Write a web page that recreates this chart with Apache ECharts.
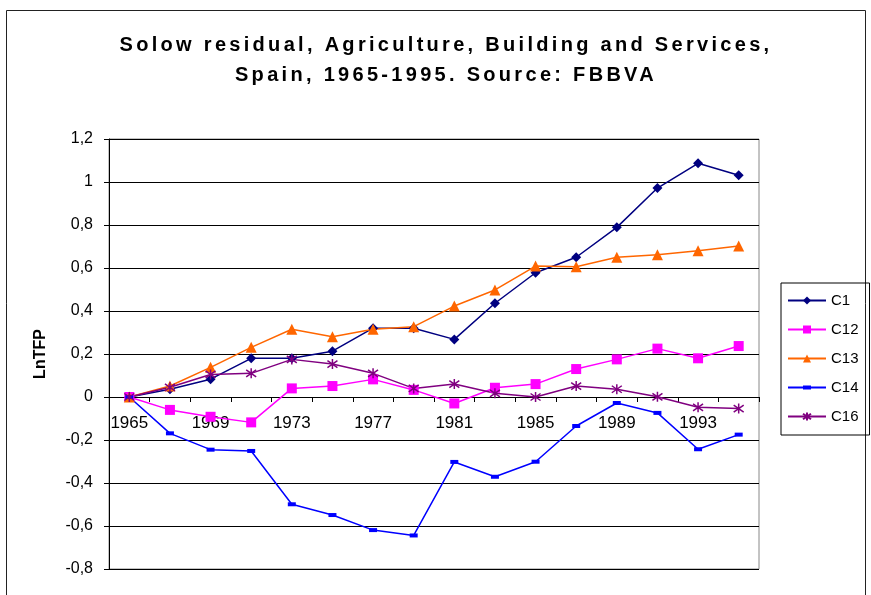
<!DOCTYPE html>
<html>
<head>
<meta charset="utf-8">
<script src="https://cdn.jsdelivr.net/npm/echarts@6/dist/echarts.min.js"></script>
<style>
  html, body { margin: 0; padding: 0; background: #fff; }
  #chart { width: 871px; height: 595px; }
</style>
</head>
<body>
<div id="chart"></div>
<script>
// datos
var years = ['1965', '1967', '1969', '1971', '1973', '1975', '1977', '1979',
             '1981', '1983', '1985', '1987', '1989', '1991', '1993', '1995'];
var c1  = [0, 0.036, 0.083, 0.18, 0.18, 0.213, 0.32, 0.32, 0.268, 0.436, 0.578, 0.65, 0.789, 0.972, 1.087, 1.031];
var c12 = [0, -0.06, -0.092, -0.118, 0.04, 0.051, 0.082, 0.033, -0.03, 0.043, 0.06, 0.13, 0.175, 0.225, 0.18, 0.237];
var c13 = [0, 0.051, 0.138, 0.231, 0.315, 0.28, 0.315, 0.327, 0.423, 0.498, 0.609, 0.606, 0.65, 0.662, 0.68, 0.702];
var c14 = [0, -0.169, -0.245, -0.251, -0.499, -0.549, -0.619, -0.644, -0.302, -0.371, -0.301, -0.135, -0.028, -0.074, -0.243, -0.175];
var c16 = [0, 0.045, 0.105, 0.11, 0.175, 0.153, 0.11, 0.04, 0.06, 0.017, 0, 0.051, 0.036, 0.001, -0.048, -0.054];

var FONT = '"Liberation Sans", Arial, sans-serif';
var star = 'path://M5,0L5,10M1,1.5L9,8.5M9,1.5L1,8.5';
// rectangulo chato, con caja 10x10 para que no se deforme en la leyenda
var flatRect = 'path://M0,0M0,2.5L10,2.5L10,7.5L0,7.5ZM10,10';

// grid: 1,2 arriba (y=139), -0,8 abajo (y=569)
var gridTop = 139, gridH = 430, yMin = -0.8, yMax = 1.2;
var zeroOffset = gridH * (0 - yMin) / (yMax - yMin);

function serie(name, data, color, symbol, size, extra) {
    var s = {
        name: name,
        type: 'line',
        data: data,
        symbol: symbol,
        symbolSize: size,
        showAllSymbol: true,
        lineStyle: { color: color, width: 1.5 },
        itemStyle: { color: color },
        emphasis: { disabled: true },
        animation: false
    };
    if (extra) {
        s.itemStyle = extra;
    }
    return s;
}

var titleStyle = function (txt) {
    return {
        text: txt,
        font: 'bold 20px ' + FONT,
        fill: '#000',
        align: 'center',
        verticalAlign: 'middle'
    };
};

var myChart = echarts.init(document.getElementById('chart'), null, { renderer: 'canvas' });
var option = {
    backgroundColor: '#ffffff',
    animation: false,
    graphic: [
        {
            type: 'rect',
            shape: { x: 6.5, y: 10.5, width: 859, height: 600 },
            style: { fill: 'none', stroke: '#222', lineWidth: 1 },
            silent: true
        },
        {
            type: 'text', id: 't1', zlevel: 1,
            x: 446, y: 45,
            style: titleStyle('Solow residual, Agriculture, Building and Services,')
        },
        {
            type: 'text', id: 't2', zlevel: 1,
            x: 446, y: 75,
            style: titleStyle('Spain, 1965-1995. Source: FBBVA')
        }
    ],
    legend: {
        orient: 'vertical',
        left: 781,
        top: 283,
        itemWidth: 38,
        itemHeight: 10,
        itemGap: 14,
        padding: [10, 11, 11, 6],
        borderColor: '#000',
        borderWidth: 1,
        textStyle: { fontFamily: FONT, fontSize: 15, color: '#000' },
        data: ['C1', 'C12', 'C13', 'C14', 'C16']
    },
    grid: {
        left: 109,
        top: gridTop,
        width: 650,
        height: gridH,
        containLabel: false,
        outerBoundsMode: 'none',
        show: true,
        borderColor: '#888',
        borderWidth: 1,
        backgroundColor: '#fff'
    },
    xAxis: {
        type: 'category',
        data: years,
        boundaryGap: true,
        position: 'bottom',
        offset: -zeroOffset,
        axisLine: { onZero: false, lineStyle: { color: '#000', width: 1 } },
        axisTick: { show: true, interval: 0, length: 5, lineStyle: { color: '#000' } },
        axisLabel: {
            interval: 1,
            color: '#000',
            fontFamily: FONT,
            fontSize: 17,
            margin: 18
        },
        splitLine: { show: false }
    },
    yAxis: {
        type: 'value',
        min: yMin,
        max: yMax,
        interval: 0.2,
        name: 'LnTFP',
        nameLocation: 'middle',
        nameRotate: 90,
        nameGap: 60,
        nameTextStyle: { fontFamily: FONT, fontSize: 16, fontWeight: 'bold', color: '#000' },
        axisLine: { show: true, lineStyle: { color: '#000', width: 1 } },
        axisTick: { show: true, length: 5, lineStyle: { color: '#000' } },
        axisLabel: {
            color: '#000',
            fontFamily: FONT,
            fontSize: 16,
            margin: 16,
            formatter: function (v) {
                return String(Math.round(v * 10) / 10).replace('.', ',');
            }
        },
        splitLine: { show: true, lineStyle: { color: '#000', width: 1 } }
    },
    series: [
        serie('C1', c1, '#000080', 'diamond', 10),
        serie('C12', c12, '#ff00ff', 'rect', 10),
        serie('C13', c13, '#ff6600', 'triangle', 11),
        serie('C14', c14, '#0000ff', flatRect, 8),
        serie('C16', c16, '#800080', star, 10,
              { color: 'none', borderColor: '#800080', borderWidth: 1.5 })
    ]
};
myChart.setOption(option);

// titulo espaciado (como el original): capa propia con letterSpacing
try {
    var zr = myChart.getZr();
    var layer = zr.painter.getLayer(1);
    layer.ctx.letterSpacing = '3.3px';
    zr.painter.refresh(true);
} catch (e) {
    console.log(e);
}
</script>
</body>
</html>
